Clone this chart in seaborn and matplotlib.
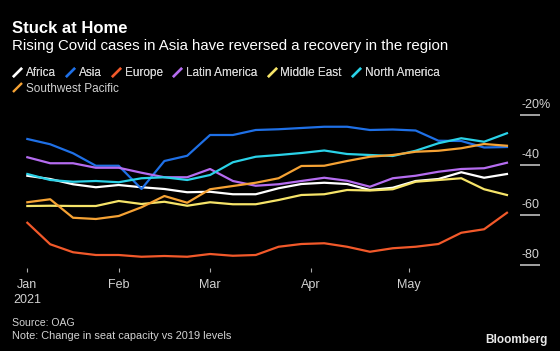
import pandas as pd
import matplotlib
matplotlib.use('Agg')
import matplotlib.pyplot as plt
import matplotlib.transforms as mtransforms
from matplotlib.lines import Line2D
import seaborn as sns

# weekly seat capacity change vs 2019 (%)
weeks = pd.date_range('2021-01-04', periods=22, freq='7D')

africa = [-44.3, -45.6, -47.7, -48.9, -48.0, -48.9, -49.6, -50.9, -50.7, -51.7, -51.7,
          -49.3, -47.6, -47.1, -47.6, -50.0, -49.1, -46.4, -45.6, -42.9, -45.1, -43.6]
asia = [-29.6, -31.7, -35.3, -40.3, -40.3, -49.6, -38.4, -36.3, -28.0, -28.0, -26.0,
        -25.7, -25.2, -24.7, -24.7, -26.0, -25.8, -26.2, -30.3, -30.4, -33.0, -32.8]
europe = [-63.1, -71.7, -74.9, -76.0, -76.0, -76.7, -76.4, -76.7, -75.6, -76.3, -76.0,
          -72.7, -71.6, -71.3, -72.7, -74.7, -73.3, -72.7, -71.6, -67.1, -65.7, -59.1]
latin_america = [-36.9, -39.3, -39.3, -41.1, -41.1, -43.1, -44.9, -44.9, -41.6, -46.4, -48.3,
                 -47.7, -46.4, -45.1, -46.3, -48.7, -45.3, -44.3, -42.7, -41.6, -41.3, -39.1]
middle_east = [-56.4, -56.3, -56.4, -56.4, -54.4, -55.6, -54.7, -56.3, -54.9, -55.7, -55.7,
               -54.0, -52.0, -51.7, -50.0, -50.2, -49.7, -46.7, -46.0, -45.3, -49.7, -52.0]
north_america = [-43.6, -46.0, -46.7, -46.4, -46.9, -45.3, -44.9, -46.0, -44.0, -38.9, -36.7,
                 -36.0, -35.2, -34.2, -35.6, -36.0, -36.4, -34.3, -31.3, -29.3, -30.7, -27.3]
sw_pacific = [-54.9, -53.7, -61.1, -61.6, -60.4, -56.9, -52.4, -55.1, -49.7, -48.4, -47.1,
              -45.3, -40.4, -40.3, -38.4, -36.7, -36.0, -34.7, -34.3, -33.3, -31.6, -32.3]

regions = ['Africa', 'Asia', 'Europe', 'Latin America', 'Middle East',
           'North America', 'Southwest Pacific']
series = [africa, asia, europe, latin_america, middle_east, north_america, sw_pacific]
colors = ['#ffffff', '#1f70e6', '#f2592a', '#b56cf0', '#f6e469', '#2ad2e8', '#f5a234']

y_ticks = [-80, -60, -40, -20]
y_labels = ['-80', '-60', '-40', '-20%']
x_ticks = pd.to_datetime(['2021-01-04', '2021-02-01', '2021-03-01', '2021-04-01', '2021-05-01'])
x_labels = ['Jan\n2021', 'Feb', 'Mar', 'Apr', 'May']

# long format for seaborn
df = pd.concat([pd.DataFrame({'week': weeks, 'change': vals, 'region': name})
                for name, vals in zip(regions, series)], ignore_index=True)
palette = dict(zip(regions, colors))

plt.rcParams['font.family'] = ['Liberation Sans', 'DejaVu Sans']
text_grey = '#d2d2d2'

fig = plt.figure(figsize=(5.6, 3.51), dpi=100, facecolor='black')
ax = fig.add_axes([20 / 560, 1 - 267.5 / 351, 500 / 560, 157.5 / 351])
ax.set_facecolor('black')

sns.lineplot(data=df, x='week', y='change', hue='region', palette=palette,
             linewidth=1.6, legend=False, ax=ax)

ax.set_xlim(pd.Timestamp('2021-01-01 18:00'), pd.Timestamp('2021-06-04'))
ax.set_ylim(-81, -18)
for s in ax.spines.values():
    s.set_visible(False)
ax.set_xlabel('')
ax.set_ylabel('')

# x axis
ax.set_xticks(x_ticks)
ax.set_xticklabels(x_labels, color=text_grey, fontsize=9, linespacing=1.4)
ax.tick_params(axis='x', length=3, width=0.8, color='#aaaaaa', pad=5)

# y axis on the right, labels sitting above the tick lines
ax.yaxis.tick_right()
ax.set_yticks(y_ticks)
ax.tick_params(axis='y', length=14.5, width=1.1, color='#cfcfcf', labelright=False)
trans = mtransforms.blended_transform_factory(ax.transAxes, ax.transData) + \
    mtransforms.ScaledTranslation(0, 5 / 72, fig.dpi_scale_trans)
for v, lab in zip(y_ticks, y_labels):
    ax.text(1.003, v, lab, transform=trans, ha='left', va='baseline',
            color=text_grey, fontsize=9)

# titles
fig.text(12 / 560, 1 - 33 / 351, 'Stuck at Home', color='white', fontsize=12,
         fontweight='bold', va='baseline')
fig.text(12 / 560, 1 - 50 / 351,
         'Rising Covid cases in Asia have reversed a recovery in the region',
         color='white', fontsize=10.8, va='baseline')

# legend with slash handles
def slash(c):
    return Line2D([], [], color=c, marker=[(-1, -1), (1, 1)], linestyle='none',
                  markersize=6.5, markeredgewidth=1.7, markeredgecolor=c)

leg_kw = dict(frameon=False, fontsize=8.5, labelcolor=text_grey, handlelength=0.9,
              handletextpad=0.3, columnspacing=0.75, borderpad=0, borderaxespad=0,
              loc='center left')
leg1 = fig.legend([slash(c) for c in colors[:6]], regions[:6], ncol=6,
                  bbox_to_anchor=(12 / 560, 1 - 73 / 351), **leg_kw)
fig.add_artist(leg1)
fig.legend([slash(colors[6])], regions[6:], ncol=1,
           bbox_to_anchor=(12 / 560, 1 - 88.5 / 351), **leg_kw)

# footer
fig.text(12 / 560, 1 - 326.5 / 351, 'Source: OAG', color=text_grey, fontsize=7.6,
         va='baseline')
fig.text(12 / 560, 1 - 339 / 351, 'Note: Change in seat capacity vs 2019 levels',
         color=text_grey, fontsize=7.9, va='baseline')
fig.text(548 / 560, 1 - 343 / 351, 'Bloomberg', color='#e8e8e8', fontsize=8.5,
         fontweight='bold', ha='right', va='baseline')

fig.savefig('out.png', dpi=100, facecolor='black')
